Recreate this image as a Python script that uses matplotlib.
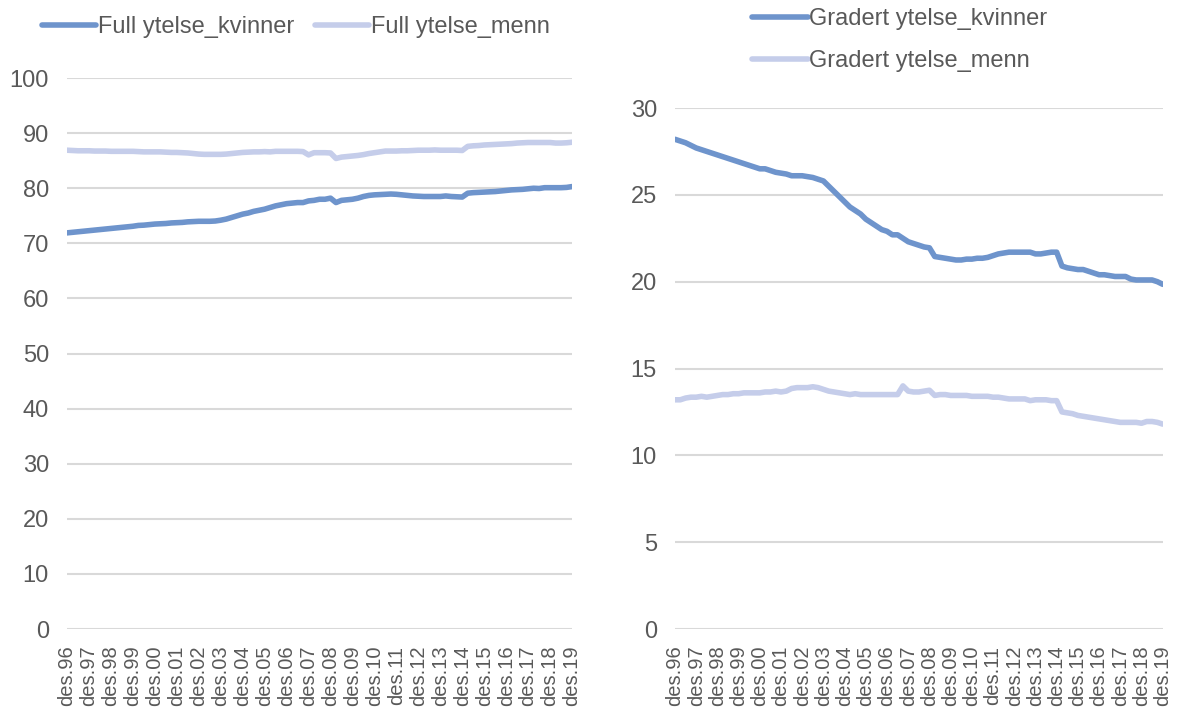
import matplotlib
matplotlib.use("Agg")
import matplotlib.pyplot as plt

plt.rcParams["font.family"] = ["Liberation Sans", "DejaVu Sans"]

# kvartalsvis fra des.96 til des.19 (93 punkter)
YEARS = [f"des.{y:02d}" for y in list(range(96, 100)) + list(range(0, 20))]

FULL_KVINNER = [
    71.9, 72.0, 72.1, 72.2, 72.3, 72.4, 72.5, 72.6, 72.7, 72.8,
    72.9, 73.0, 73.1, 73.25, 73.3, 73.4, 73.5, 73.55, 73.6, 73.7,
    73.75, 73.8, 73.9, 73.95, 74.0, 74.0, 74.0, 74.05, 74.2, 74.4,
    74.7, 75.0, 75.3, 75.5, 75.8, 76.0, 76.2, 76.5, 76.8, 77.0,
    77.2, 77.3, 77.4, 77.4, 77.7, 77.8, 78.0, 78.0, 78.2, 77.4,
    77.8, 77.9, 78.0, 78.2, 78.5, 78.7, 78.8, 78.85, 78.9, 78.95,
    78.9, 78.8, 78.7, 78.6, 78.55, 78.5, 78.5, 78.5, 78.5, 78.6,
    78.5, 78.45, 78.4, 79.1, 79.2, 79.25, 79.3, 79.35, 79.4, 79.5,
    79.6, 79.7, 79.75, 79.8, 79.9, 80.0, 79.95, 80.1, 80.1, 80.1,
    80.1, 80.15, 80.3,
]
FULL_MENN = [
    86.9, 86.85, 86.8, 86.8, 86.8, 86.75, 86.75, 86.75, 86.7, 86.7,
    86.7, 86.7, 86.7, 86.65, 86.6, 86.6, 86.6, 86.6, 86.55, 86.5,
    86.5, 86.45, 86.4, 86.3, 86.2, 86.15, 86.15, 86.15, 86.15, 86.2,
    86.3, 86.4, 86.5, 86.55, 86.6, 86.6, 86.65, 86.6, 86.7, 86.7,
    86.7, 86.7, 86.7, 86.65, 86.05, 86.45, 86.45, 86.45, 86.4, 85.4,
    85.65, 85.75, 85.85, 85.95, 86.1, 86.3, 86.45, 86.6, 86.75, 86.75,
    86.75, 86.8, 86.8, 86.85, 86.9, 86.9, 86.9, 86.95, 86.9, 86.9,
    86.9, 86.9, 86.85, 87.6, 87.7, 87.75, 87.85, 87.9, 87.95, 88.0,
    88.05, 88.1, 88.2, 88.25, 88.3, 88.3, 88.3, 88.3, 88.3, 88.2,
    88.2, 88.25, 88.35,
]
GRAD_KVINNER = [
    28.2, 28.1, 28.0, 27.85, 27.7, 27.6, 27.5, 27.4, 27.3, 27.2,
    27.1, 27.0, 26.9, 26.8, 26.7, 26.6, 26.5, 26.5, 26.4, 26.3,
    26.25, 26.2, 26.1, 26.1, 26.1, 26.05, 26.0, 25.9, 25.8, 25.5,
    25.2, 24.9, 24.6, 24.3, 24.1, 23.9, 23.6, 23.4, 23.2, 23.0,
    22.9, 22.7, 22.7, 22.5, 22.3, 22.2, 22.1, 22.0, 21.95, 21.45,
    21.4, 21.35, 21.3, 21.25, 21.25, 21.3, 21.3, 21.35, 21.35, 21.4,
    21.5, 21.6, 21.65, 21.7, 21.7, 21.7, 21.7, 21.7, 21.6, 21.6,
    21.65, 21.7, 21.7, 20.9, 20.8, 20.75, 20.7, 20.7, 20.6, 20.5,
    20.4, 20.4, 20.35, 20.3, 20.3, 20.3, 20.15, 20.1, 20.1, 20.1,
    20.1, 20.0, 19.85,
]
GRAD_MENN = [
    13.2, 13.2, 13.3, 13.35, 13.35, 13.4, 13.35, 13.4, 13.45, 13.5,
    13.5, 13.55, 13.55, 13.6, 13.6, 13.6, 13.6, 13.65, 13.65, 13.7,
    13.65, 13.7, 13.85, 13.9, 13.9, 13.9, 13.95, 13.9, 13.8, 13.7,
    13.65, 13.6, 13.55, 13.5, 13.55, 13.5, 13.5, 13.5, 13.5, 13.5,
    13.5, 13.5, 13.5, 14.0, 13.7, 13.65, 13.65, 13.7, 13.75, 13.45,
    13.5, 13.5, 13.45, 13.45, 13.45, 13.45, 13.4, 13.4, 13.4, 13.4,
    13.35, 13.35, 13.3, 13.25, 13.25, 13.25, 13.25, 13.15, 13.2, 13.2,
    13.2, 13.15, 13.15, 12.5, 12.45, 12.4, 12.3, 12.25, 12.2, 12.15,
    12.1, 12.05, 12.0, 11.95, 11.9, 11.9, 11.9, 11.9, 11.85, 11.95,
    11.95, 11.9, 11.8,
]

DARK = "#6E94CC"
LIGHT = "#C5CDEA"
GREY = "#595959"
GRID = "#D9D9D9"
FS = 17
FS_X = 14.5


def style(ax, ymax, step):
    ax.set_xlim(0, len(FULL_KVINNER) - 1)
    ax.set_ylim(0, ymax)
    ax.set_yticks(range(0, ymax + 1, step))
    ax.set_xticks(range(0, len(FULL_KVINNER), 4))
    ax.set_xticklabels(YEARS, rotation=90, fontsize=FS_X, color=GREY)
    ax.tick_params(axis="x", length=0, pad=12)
    ax.tick_params(axis="y", length=0, pad=13, labelsize=FS, labelcolor=GREY)
    for s in ax.spines.values():
        s.set_visible(False)
    ax.yaxis.grid(True, color=GRID, linewidth=1.5)
    ax.set_axisbelow(True)


fig = plt.figure(figsize=(11.78, 7.14), dpi=100)
x = range(len(FULL_KVINNER))

ax1 = fig.add_axes([0.0569, 0.119, 0.4287, 0.7717])
ax1.plot(x, FULL_KVINNER, color=DARK, lw=4.0, label="Full ytelse_kvinner", solid_capstyle="round")
ax1.plot(x, FULL_MENN, color=LIGHT, lw=4.0, label="Full ytelse_menn", solid_capstyle="round")
style(ax1, 100, 10)
ax1.legend(loc="center left", bbox_to_anchor=(0.0357, 0.962), bbox_transform=fig.transFigure,
           ncol=2, frameon=False, fontsize=FS, handlelength=2.3, handletextpad=0.05,
           columnspacing=0.9, labelcolor=GREY, borderpad=0, borderaxespad=0)

ax2 = fig.add_axes([0.573, 0.119, 0.414, 0.7297])
ax2.plot(x, GRAD_KVINNER, color=DARK, lw=4.0, label="Gradert ytelse_kvinner", solid_capstyle="round")
ax2.plot(x, GRAD_MENN, color=LIGHT, lw=4.0, label="Gradert ytelse_menn", solid_capstyle="round")
style(ax2, 30, 5)
ax2.legend(loc="center left", bbox_to_anchor=(0.638, 0.944), bbox_transform=fig.transFigure,
           ncol=1, frameon=False, fontsize=FS, handlelength=2.4, handletextpad=0.05,
           labelspacing=0.85, labelcolor=GREY, borderpad=0, borderaxespad=0)

fig.savefig("out.png", dpi=100)
